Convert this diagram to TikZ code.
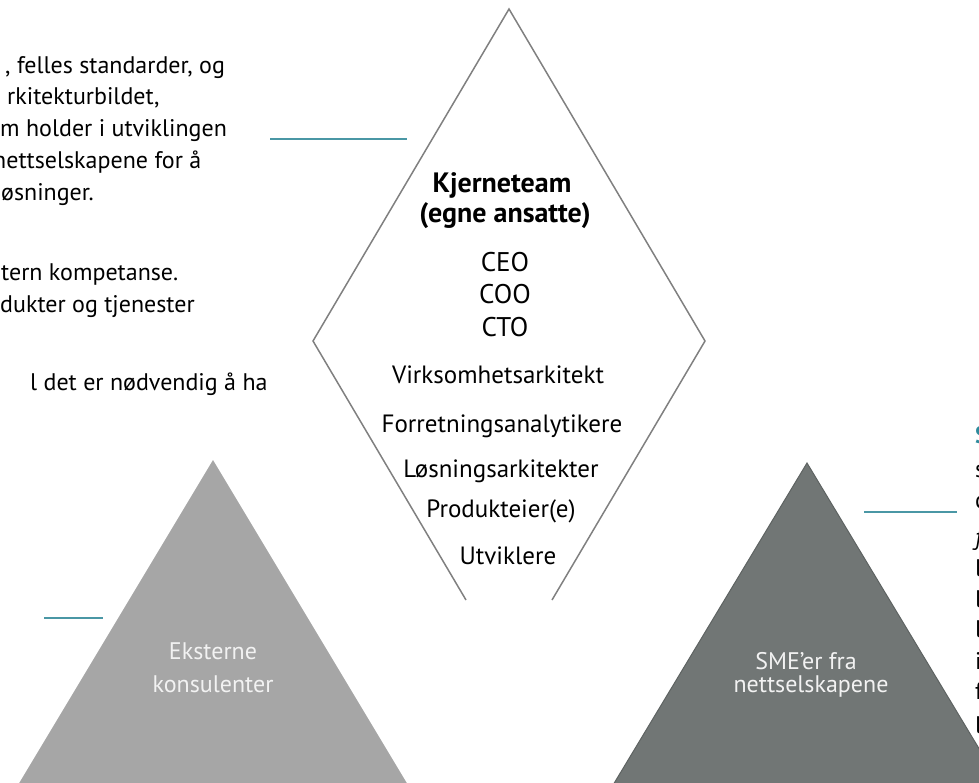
\documentclass[tikz,border=0pt]{standalone}
\usepackage{fontspec}
\setmainfont{PT Sans}
\definecolor{tealline}{HTML}{4A97A5}
\definecolor{rimgray}{HTML}{808080}
\definecolor{lightfill}{HTML}{A6A6A6}
\definecolor{darkfill}{HTML}{717675}
\definecolor{darkrim}{HTML}{5E6362}
\definecolor{tritext}{HTML}{F2F2F2}
\definecolor{headteal}{HTML}{2E8A9C}
\begin{document}
\begin{tikzpicture}[x=1pt,y=-1pt,
  body/.style={font=\fontsize{24}{28}\selectfont, inner sep=0pt, anchor=base west},
  role/.style={font=\fontsize{25}{29}\selectfont, inner sep=0pt, anchor=base},
  rolecap/.style={font=\fontsize{27}{31}\selectfont, inner sep=0pt, anchor=base},
  rolehead/.style={font=\fontsize{28}{32}\selectfont\bfseries, inner sep=0pt, anchor=base},
  trilabel/.style={font=\fontsize{24}{28}\selectfont, text=tritext, inner sep=0pt, anchor=base},
  link/.style={draw=tealline, line width=2pt},
  rim/.style={draw=rimgray, line width=1.5pt, line join=miter}]
\useasboundingbox (0,0) rectangle (979,782);
\clip (0,0) rectangle (979,782);

% core team outline, open at the bottom
\draw[rim] (466,600) -- (313,341) -- (509,9) -- (705,341) -- (552,600);

% outer groups
\fill[lightfill] (213,460) -- (9,800) -- (417,800) -- cycle;
\draw[darkrim, fill=darkfill, line width=1pt] (807,463) -- (604,800) -- (1010,800) -- cycle;

% core team roles
\node[rolehead] (kt1) at (502,192) {Kjerneteam};
\node[rolehead] (kt2) at (505,222) {(egne ansatte)};
\node[rolecap] (ceo) at (505,271) {CEO};
\node[rolecap] (coo) at (505,303) {COO};
\node[rolecap] (cto) at (505,336) {CTO};
\node[role] (va) at (498,383) {Virksomhetsarkitekt};
\node[role] (fa) at (502,432) {Forretningsanalytikere};
\node[role] (la) at (501,477) {Løsningsarkitekter};
\node[role] (pe) at (501,517) {Produkteier(e)};
\node[role] (ut) at (508,564) {Utviklere};

% group labels
\node[trilabel] (ek1) at (213,659) {Eksterne};
\node[trilabel] (ek2) at (213,692) {konsulenter};
\node[trilabel] (sm1) at (806,669) {SME’er fra};
\node[trilabel] (sm2) at (811,692) {nettselskapene};

% description text, left
\node[body] (d1) at (5,73) {, felles standarder, og};
\node[body] (d2) at (7,104) {rkitekturbildet,};
\node[body] (d3) at (0,136) {m holder i utviklingen};
\node[body] (d4) at (-7,168) {nettselskapene for å};
\node[body] (d5) at (1,200) {øsninger.};
\node[body] (d6) at (1,280) {tern kompetanse.};
\node[body] (d7) at (0,312) {dukter og tjenester};
\node[body] (d8) at (30,390) {l det er nødvendig å ha};

% description text, right
\node[body, text=headteal, font=\fontsize{24}{28}\selectfont\bfseries] (r0) at (975,443) {S};
\node[body] (r1) at (975,477) {s};
\node[body] (r2) at (975,508) {c};
\node[body] (r3) at (975,545) {\itshape f};
\node[body] (r4) at (975,576) {l};
\node[body] (r5) at (975,607) {l};
\node[body] (r6) at (975,637) {l};
\node[body] (r7) at (975,669) {i};
\node[body] (r8) at (975,699) {f};
\node[body] (r9) at (975,733) {l};

% leader lines
\coordinate (a1) at (270,139); \coordinate (a2) at (407,139);
\coordinate (b1) at (44,618);  \coordinate (b2) at (103,618);
\coordinate (c1) at (864,512); \coordinate (c2) at (957,512);
\draw[link] (a1) -- (a2);
\draw[link] (b1) -- (b2);
\draw[link] (c1) -- (c2);
\end{tikzpicture}
\end{document}
